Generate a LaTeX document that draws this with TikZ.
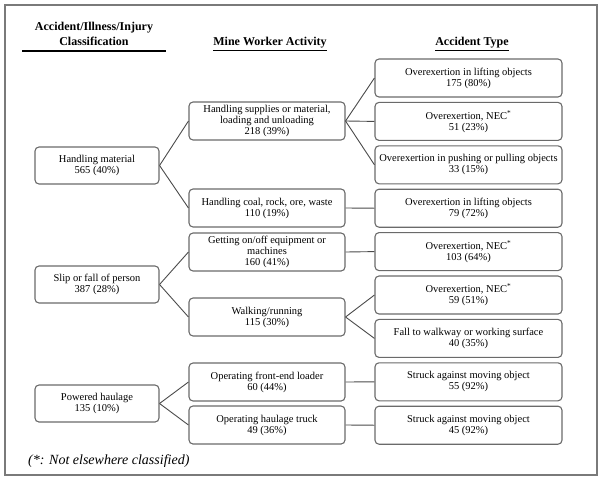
\documentclass[tikz,border=0pt]{standalone}
\usepackage{fontspec}
\setmainfont{Liberation Serif}
\definecolor{boxgray}{HTML}{6A6A6A}
\definecolor{linegray}{HTML}{4A4A4A}
\definecolor{framegray}{HTML}{7A7A7A}
\begin{document}
\begin{tikzpicture}[x=1pt,y=-1pt,
  box/.style={draw=boxgray, rounded corners=4pt, line width=1.1pt, align=center,
    inner sep=0pt, minimum height=38pt, font=\fontsize{10.5}{11}\selectfont},
  lone/.style={box, minimum width=124pt, minimum height=37pt},
  ltwo/.style={box, minimum width=156pt},
  lthree/.style={box, minimum width=187pt},
  conn/.style={draw=linegray, line width=0.9pt},
  head/.style={font=\fontsize{12}{15}\selectfont\bfseries, inner sep=0pt, align=center}]
\useasboundingbox (0,0) rectangle (602,480);
\draw[framegray, line width=1.4pt] (5,5) rectangle (597,475);

% headers
\node[head] (h1) at (94,34) {Accident/Illness/Injury\\Classification};
\coordinate (r1a) at (22,51);
\coordinate (r1b) at (166,51);
\draw[line width=1.3pt] (r1a) -- (r1b);
\node[head] (h2) at (270,44) {\underline{Mine Worker\ Activity}};
\node[head] (h3) at (472,44) {\underline{Accident Type}};

% level 1
\node[lone] (hm) at (97,165.5) {Handling material\\565 (40\%)};
\node[lone] (sf) at (97,284.5) {Slip or fall of person\\387 (28\%)};
\node[lone] (ph) at (97,403.5) {Powered haulage\\135 (10\%)};

% level 2
\node[ltwo] (hs) at (267,121) {Handling supplies or material,\\loading and unloading\\218 (39\%)};
\node[ltwo] (hc) at (267,208) {Handling coal, rock, ore, waste\\110 (19\%)};
\node[ltwo] (go) at (267,252) {Getting on/off equipment or\\machines\\160 (41\%)};
\node[ltwo] (wr) at (267,317) {Walking/running\\115 (30\%)};
\node[ltwo] (fe) at (267,382) {Operating front-end loader\\60 (44\%)};
\node[ltwo] (ht) at (267,425) {Operating haulage truck\\49 (36\%)};

% level 3
\node[lthree] (a1) at (468.5,78) {Overexertion in lifting objects\\175 (80\%)};
\node[lthree] (a2) at (468.5,121.4) {Overexertion, NEC\textsuperscript{*}\\51 (23\%)};
\node[lthree] (a3) at (468.5,164.8) {Overexertion in pushing or pulling objects\\33 (15\%)};
\node[lthree] (a4) at (468.5,208.2) {Overexertion in lifting objects\\79 (72\%)};
\node[lthree] (a5) at (468.5,251.6) {Overexertion, NEC\textsuperscript{*}\\103 (64\%)};
\node[lthree] (a6) at (468.5,295) {Overexertion, NEC\textsuperscript{*}\\59 (51\%)};
\node[lthree] (a7) at (468.5,338.4) {Fall to walkway or working surface\\40 (35\%)};
\node[lthree] (a8) at (468.5,381.8) {Struck against moving object\\55 (92\%)};
\node[lthree] (a9) at (468.5,425.2) {Struck against moving object\\45 (92\%)};

% connectors
\draw[conn] (hm.east) -- (hs.west);
\draw[conn] (hm.east) -- (hc.west);
\draw[conn] (sf.east) -- (go.west);
\draw[conn] (sf.east) -- (wr.west);
\draw[conn] (ph.east) -- (fe.west);
\draw[conn] (ph.east) -- (ht.west);
\draw[conn] (hs.east) -- (a1.west);
\draw[conn] (hs.east) -- (a2.west);
\draw[conn] (hs.east) -- (a3.west);
\draw[conn] (hc.east) -- (a4.west);
\draw[conn] (go.east) -- (a5.west);
\draw[conn] (wr.east) -- (a6.west);
\draw[conn] (wr.east) -- (a7.west);
\draw[conn] (fe.east) -- (a8.west);
\draw[conn] (ht.east) -- (a9.west);

% footnote
\node[anchor=west, inner sep=0pt, font=\fontsize{14}{16}\selectfont\itshape] (fn) at (28,461) {(*: Not elsewhere classified)};
\end{tikzpicture}
\end{document}
